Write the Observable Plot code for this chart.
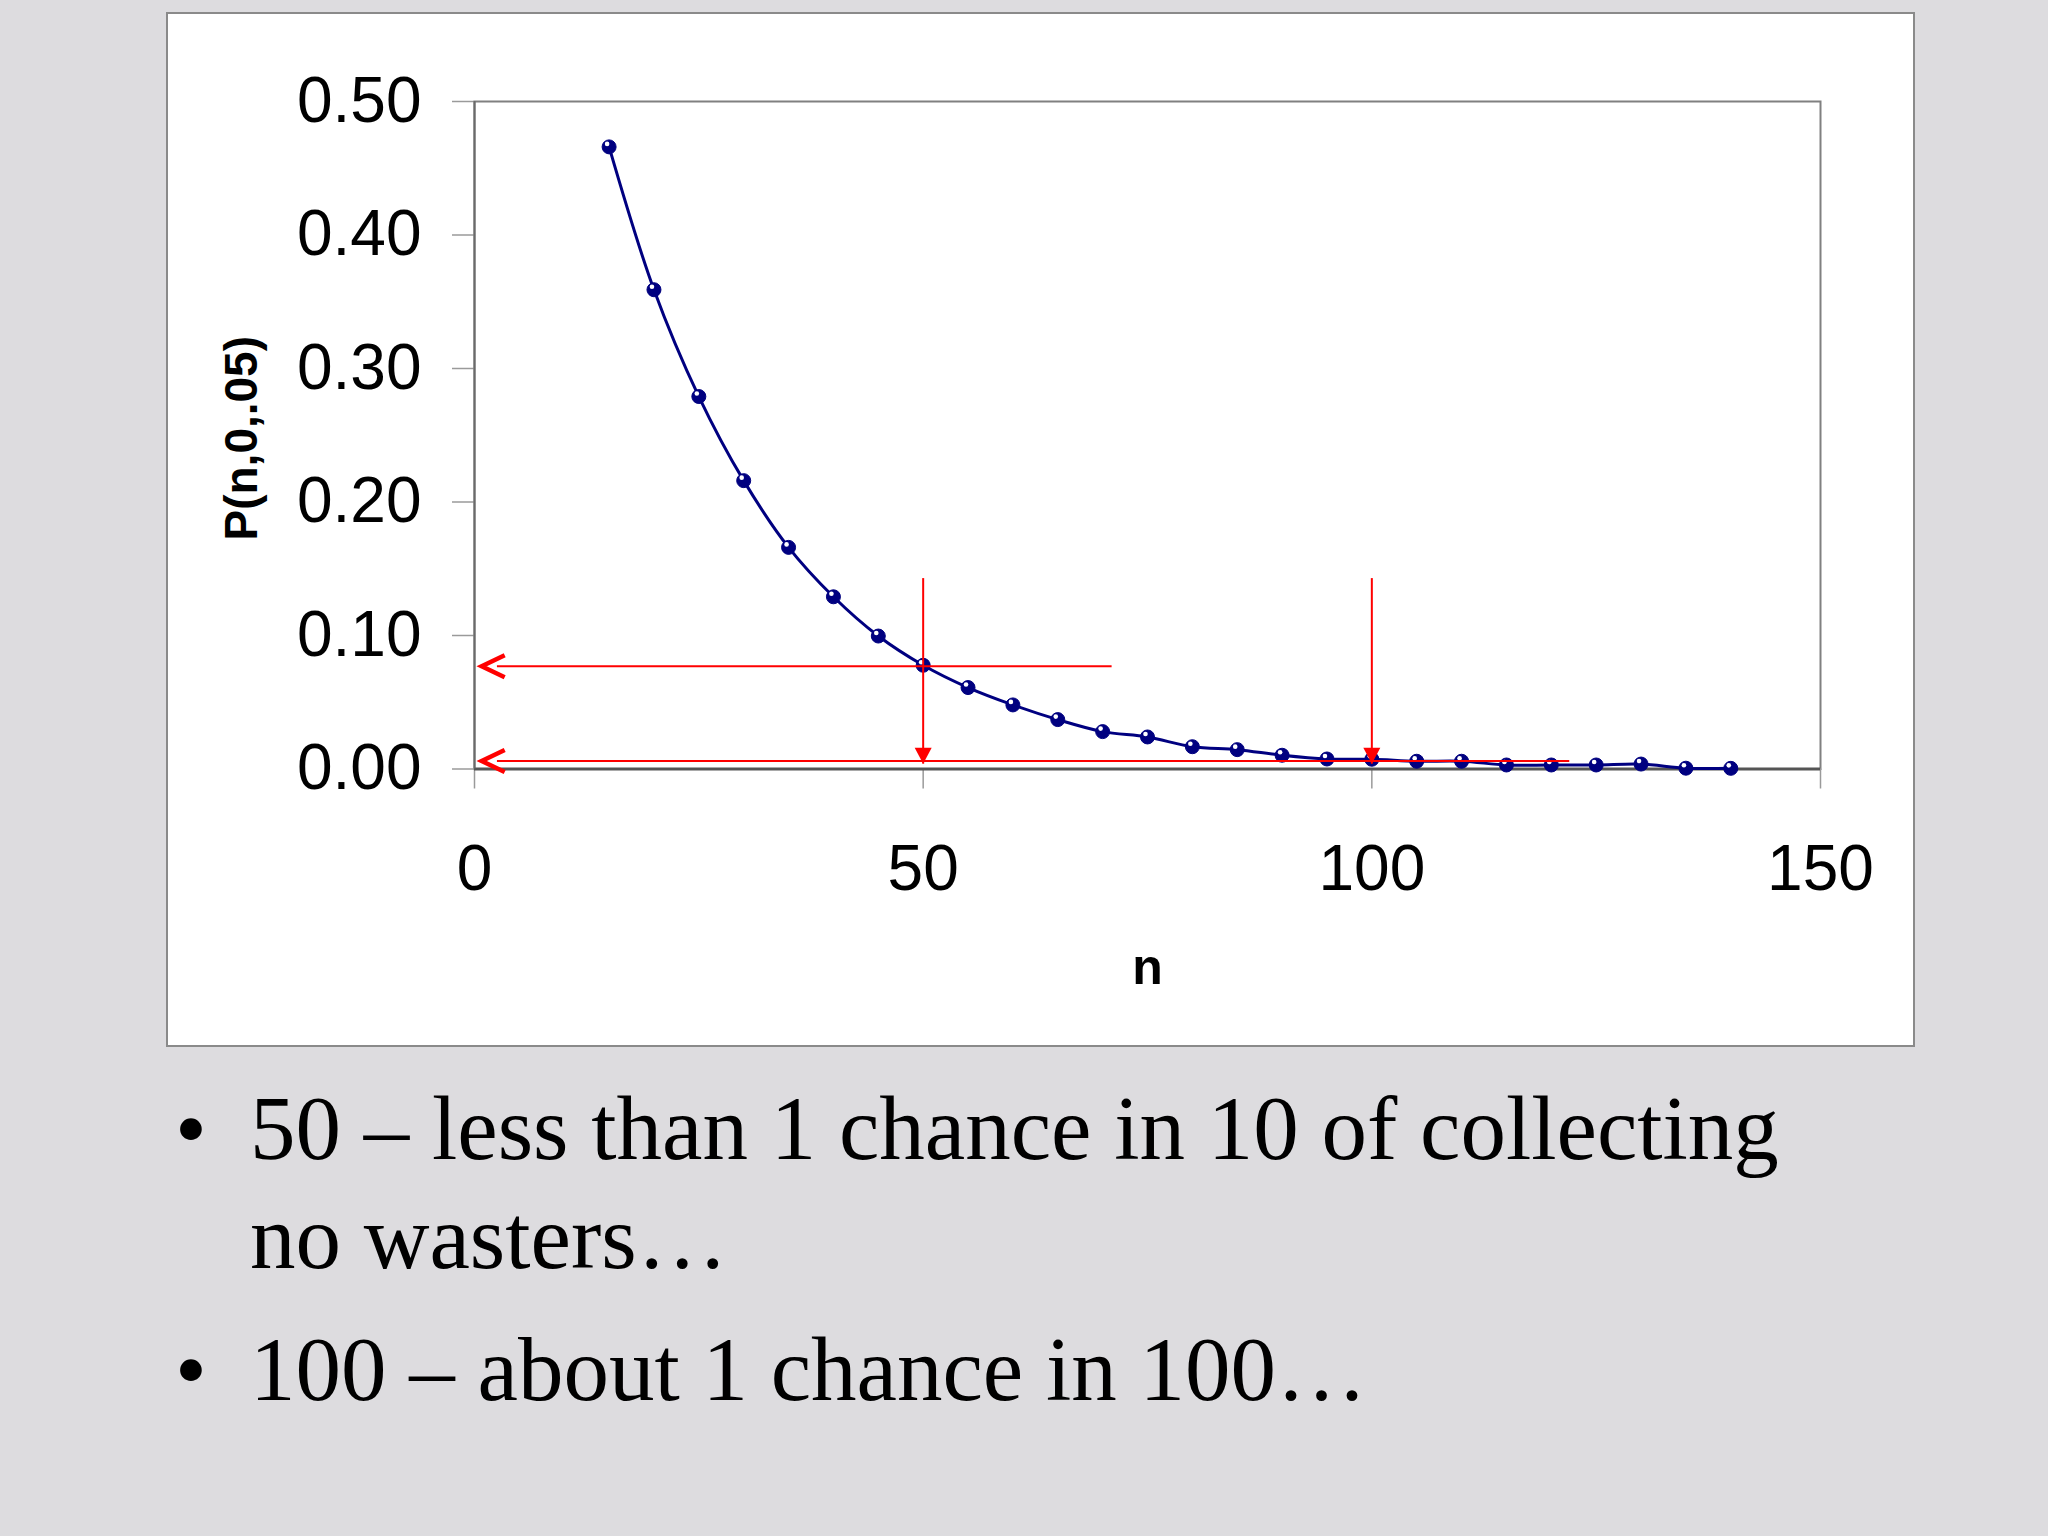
<!DOCTYPE html>
<html>
<head>
<meta charset="utf-8">
<script src="https://cdn.jsdelivr.net/npm/d3@7"></script>
<script src="https://cdn.jsdelivr.net/npm/@observablehq/plot@0.6"></script>
<style>
  html, body { margin: 0; padding: 0; }
  body { width: 2048px; height: 1536px; background: #dddcdf; position: relative; overflow: hidden; }
  #chart { position: absolute; left: 166px; top: 12px; border: 2px solid #8a8a8a; background: #ffffff; width: 1745px; height: 1031px; }
  #chart svg { display: block; }
  .bullet { position: absolute; left: 175px; font-family: "Liberation Serif", "Times New Roman", serif; font-size: 91px; line-height: 109px; color: #000; display: flex; }
  .bullet .dot { width: 75px; flex: none; }
  .bullet .txt { white-space: nowrap; }
</style>
</head>
<body>
<div id="chart"></div>
<div id="notes"></div>
<script>
// ---- data ----
const nValues = [15, 20, 25, 30, 35, 40, 45, 50, 55, 60, 65, 70, 75, 80, 85, 90, 95, 100, 105, 110, 115, 120, 125, 130, 135, 140];
const pValues = [0.466, 0.359, 0.279, 0.216, 0.166, 0.129, 0.0996, 0.0777, 0.061, 0.048, 0.037, 0.028, 0.024, 0.0167, 0.0145, 0.0103, 0.0075, 0.0073, 0.0058, 0.0058, 0.003, 0.003, 0.003, 0.0037, 0.0006, 0.0005];

const xTicks = [0, 50, 100, 150];
const xTickLabels = ["0", "50", "100", "150"];
const yTicks = [0, 0.1, 0.2, 0.3, 0.4, 0.5];
const yTickLabels = ["0.00", "0.10", "0.20", "0.30", "0.40", "0.50"];
const xTitle = "n";
const yTitle = "P(n,0,.05)";

// red annotation arrows
const hArrowY = [0.077, 0.006];
const hArrowEnd = [71, 122];
const hArrowStart = 2.5;
const hArrowTip = 0.8;
const vArrowX = [50, 100];
const vArrowTop = 0.143;
const vArrowTip = 0.004;

const bulletLines = [
  ["50 – less than 1 chance in 10 of collecting", "no wasters…"],
  ["100 – about 1 chance in 100…"]
];
const bulletTops = [1074, 1315];

// ---- build ----
const points = nValues.map((n, i) => ({n, p: pValues[i]}));
const hLines = hArrowY.map((y, i) => ({x1: hArrowStart, x2: hArrowEnd[i], y}));
const hTips = hArrowY.map(y => ({x: hArrowTip, y}));
const vLines = vArrowX.map(x => ({x, y1: vArrowTop, y2: vArrowTip}));
const vTips = vArrowX.map(x => ({x, y: vArrowTip}));

const chevronLeft = {draw(ctx) { ctx.moveTo(23, -11); ctx.lineTo(0, 0); ctx.lineTo(23, 11); }};
const triDown = {draw(ctx) { ctx.moveTo(0, 0); ctx.lineTo(-8.5, -16); ctx.lineTo(8.5, -16); ctx.closePath(); }};

const navy = "#000080";
const red = "#ff0000";

const plot = Plot.plot({
  width: 1745,
  height: 1031,
  marginLeft: 306,
  marginRight: 93,
  marginTop: 87,
  marginBottom: 276.5,
  style: {background: "#ffffff", color: "#000", fontFamily: "'Liberation Sans', Arial, sans-serif", fontSize: "64px", overflow: "visible"},
  x: {domain: [0, 150]},
  y: {domain: [0, 0.5]},
  marks: [
    Plot.frame({stroke: "#808080", strokeWidth: 2}),
    Plot.axisX({ticks: xTicks, tickFormat: (d) => xTickLabels[xTicks.indexOf(d)], tickSize: 20, tickPadding: 56, fontSize: 64, stroke: "#9a9a9a", strokeWidth: 1.5, label: null}),
    Plot.axisY({ticks: yTicks, tickFormat: (d) => yTickLabels[yTicks.indexOf(d)], tickSize: 22, tickPadding: 31, fontSize: 64, stroke: "#9a9a9a", strokeWidth: 1.5, label: null}),
    Plot.ruleY([0], {stroke: "#555555", strokeWidth: 3}),
    Plot.ruleX([0], {stroke: "#6a6a6a", strokeWidth: 2}),
    Plot.line(points, {x: "n", y: "p", curve: "catmull-rom", stroke: navy, strokeWidth: 3}),
    Plot.dot(points, {x: "n", y: "p", r: 7, fill: navy, stroke: navy, strokeWidth: 1}),
    Plot.dot(points, {x: "n", y: "p", r: 2.3, fill: "#ffffff", dx: -2, dy: -3}),
    Plot.link(hLines, {x1: "x1", x2: "x2", y1: "y", y2: "y", stroke: red, strokeWidth: 2}),
    Plot.dot(hTips, {x: "x", y: "y", symbol: chevronLeft, fill: "none", stroke: red, strokeWidth: 4.5, strokeLinejoin: "miter"}),
    Plot.link(vLines, {x1: "x", x2: "x", y1: "y1", y2: "y2", stroke: red, strokeWidth: 2}),
    Plot.dot(vTips, {x: "x", y: "y", symbol: triDown, fill: red, stroke: "none"}),
    Plot.text([yTitle], {frameAnchor: "left", textAnchor: "middle", lineAnchor: "middle", dx: -232, dy: 3, rotate: -90, fontSize: 46, fontWeight: "bold", fill: "#000"}),
    Plot.text([xTitle], {frameAnchor: "bottom", textAnchor: "middle", lineAnchor: "middle", dy: 198.5, fontSize: 50, fontWeight: "bold", fill: "#000"})
  ]
});
document.getElementById("chart").appendChild(plot);

const notes = document.getElementById("notes");
bulletLines.forEach((lines, i) => {
  const b = document.createElement("div");
  b.className = "bullet";
  b.style.top = bulletTops[i] + "px";
  const dot = document.createElement("span");
  dot.className = "dot";
  dot.textContent = "•";
  const txt = document.createElement("div");
  txt.className = "txt";
  lines.forEach((line) => {
    const l = document.createElement("div");
    l.textContent = line;
    txt.appendChild(l);
  });
  b.appendChild(dot);
  b.appendChild(txt);
  notes.appendChild(b);
});
</script>
</body>
</html>
